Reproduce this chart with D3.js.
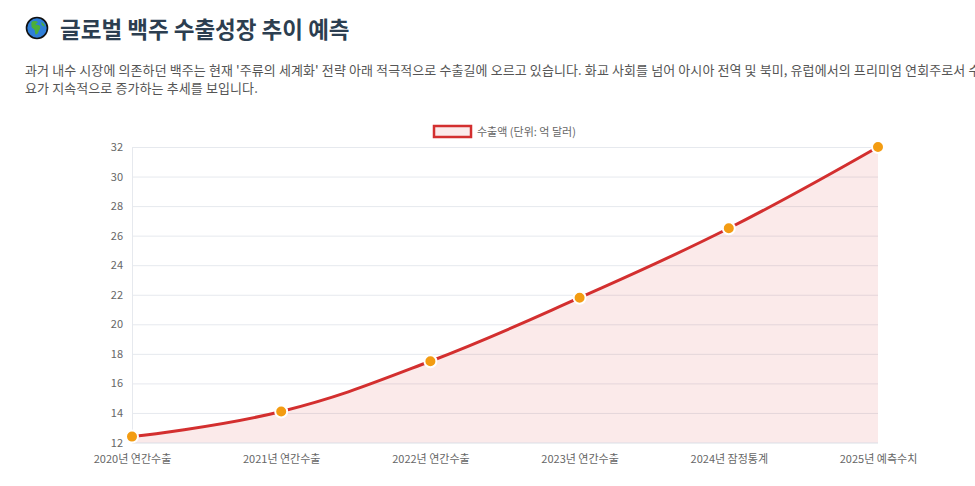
<!DOCTYPE html>
<html><head><meta charset="utf-8">
<script src="https://cdn.jsdelivr.net/npm/d3@7"></script>
<style>
html,body{margin:0;padding:0;background:#fff;width:975px;height:486px;overflow:hidden;}
body{font-family:"Noto Sans CJK KR","Noto Sans",sans-serif;position:relative;}
#title{position:absolute;left:25px;top:12px;white-space:nowrap;font-size:22.5px;font-weight:700;color:#2c3e50;display:flex;align-items:center;}
#title svg{margin-right:11px;}
#desc{position:absolute;left:25px;top:61px;white-space:nowrap;font-size:13px;line-height:18px;color:#555;letter-spacing:0.1px;}
#chart{position:absolute;left:0;top:0;}
</style></head>
<body>
<div id="title"><svg width="24" height="24" viewBox="0 0 24 24">
<circle cx="12" cy="12" r="10.5" fill="#2f7fd8" stroke="#111" stroke-width="1.6"/>
<path d="M7 5.5 C9 4.5 12 4.8 13 6 C12.5 7.5 11 7.2 10.5 8.5 C12 9 14 8.8 15 10 C16 12 14.5 13.5 13.5 15.5 C13 17.5 11.5 19 10.5 18.5 C9.8 16.5 10.2 14.5 9 13 C7.5 12.5 6.2 11.5 6.5 9.5 C6.3 8 6.2 6.5 7 5.5 Z" fill="#4caf3a"/>
<path d="M16.5 6 C18 7 19.5 8.5 19.8 10.5 C18.5 10.8 17.3 9.5 16.5 8.5 Z" fill="#4caf3a"/>
</svg><span>글로벌 백주 수출성장 추이 예측</span></div>
<div id="desc">과거 내수 시장에 의존하던 백주는 현재 '주류의 세계화' 전략 아래 적극적으로 수출길에 오르고 있습니다. 화교 사회를 넘어 아시아 전역 및 북미, 유럽에서의 프리미엄 연회주로서 수<br>요가 지속적으로 증가하는 추세를 보입니다.</div>
<svg id="chart" width="975" height="486"></svg>
<script>
const categories = ["2020년 연간수출","2021년 연간수출","2022년 연간수출","2023년 연간수출","2024년 잠정통계","2025년 예측수치"];
const exportValues = [12.4, 14.1, 17.5, 21.8, 26.5, 32.0];
const yTicks = [12,14,16,18,20,22,24,26,28,30,32];
const seriesLabel = "수출액 (단위: 억 달러)";

const svg = d3.select("#chart");
const pLeft = 132, pRight = 878, pTop = 147, pBottom = 442.5;
const x = d3.scalePoint().domain(categories).range([pLeft, pRight]);
const y = d3.scaleLinear().domain([12, 32]).range([pBottom, pTop]);
const font = "'Noto Sans CJK KR','Noto Sans',sans-serif";

// grid
const yAxis = d3.axisLeft(y).tickValues(yTicks).tickSize(-(pRight-pLeft)).tickPadding(9).tickFormat(d3.format("d"));
const gy = svg.append("g").attr("transform", `translate(${pLeft},0)`).call(yAxis);
gy.select(".domain").attr("stroke", "#e6e9ee");
gy.selectAll(".tick line").attr("stroke", "#e6e9ee").attr("stroke-width", 1);
gy.selectAll(".tick text").attr("fill", "#666").attr("font-size", 11).attr("font-family", font);

const xAxis = d3.axisBottom(x).tickSize(0).tickPadding(13);
const gx = svg.append("g").attr("transform", `translate(0,${pBottom})`).call(xAxis);
gx.select(".domain").remove();
gx.selectAll(".tick text").attr("fill", "#666").attr("font-size", 11).attr("font-family", font);

const data = categories.map((c, i) => ({c, v: exportValues[i]}));
const curve = d3.curveCardinal.tension(-0.2);
const area = d3.area().x(d => x(d.c)).y0(pBottom).y1(d => y(d.v)).curve(curve);
const line = d3.line().x(d => x(d.c)).y(d => y(d.v)).curve(curve);

svg.append("path").datum(data).attr("d", area).attr("fill", "rgba(211,47,47,0.1)");
svg.append("path").datum(data).attr("d", line).attr("fill", "none").attr("stroke", "#d32f2f").attr("stroke-width", 3);
svg.append("g").selectAll("circle").data(data).join("circle")
  .attr("cx", d => x(d.c)).attr("cy", d => y(d.v)).attr("r", 6)
  .attr("fill", "#f39c12").attr("stroke", "#fff").attr("stroke-width", 2);

// legend
const lg = svg.append("g");
lg.append("rect").attr("x", 434).attr("y", 126).attr("width", 37).attr("height", 11)
  .attr("fill", "rgba(211,47,47,0.1)").attr("stroke", "#d32f2f").attr("stroke-width", 2.5);
lg.append("text").attr("x", 477).attr("y", 132).attr("dy", "0.35em").attr("fill", "#666")
  .attr("font-size", 11).attr("font-family", font).text(seriesLabel);
</script>
</body></html>
